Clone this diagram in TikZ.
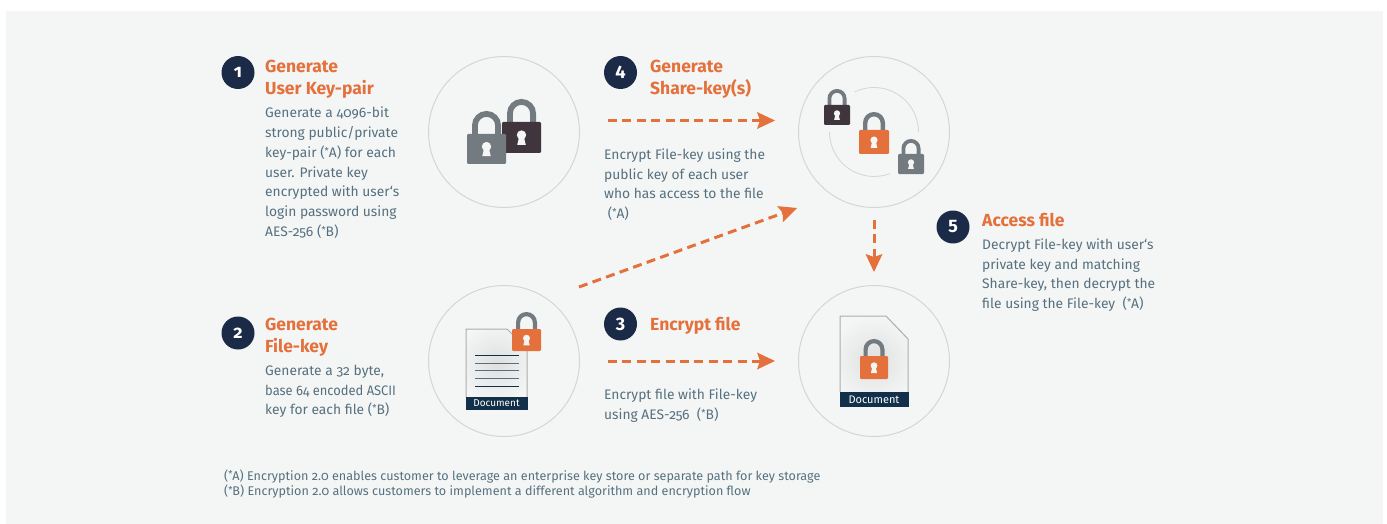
\documentclass[tikz,border=0pt]{standalone}
\usepackage{fontspec}
\setmainfont{Fira Sans}[Numbers=OldStyle]
\usetikzlibrary{arrows.meta,positioning}
\definecolor{panel}{HTML}{F4F6F6}
\definecolor{ringc}{HTML}{D3D6D5}
\definecolor{accent}{HTML}{E4703B}
\definecolor{navy}{HTML}{1B2A47}
\definecolor{bannerc}{HTML}{12304A}
\definecolor{bodytxt}{HTML}{56707F}
\definecolor{lockgray}{HTML}{737A80}
\definecolor{lockdark}{HTML}{41353D}
\newcommand{\st}{\raisebox{0.22em}{\fontsize{9.5}{9.5}\selectfont *}}
\tikzset{
  x=1pt,y=-1pt,
  ring/.style={circle,draw=ringc,line width=1pt,minimum size=151pt,inner sep=0pt,fill=none},
  badge/.style={circle,fill=navy,text=white,minimum size=33pt,inner sep=0pt,font=\fontsize{18}{18}\selectfont\bfseries},
  headline/.style={anchor=north west,inner sep=0pt,align=left,text=accent,font=\fontsize{17.5}{22}\selectfont\bfseries},
  bodytext/.style={anchor=north west,inner sep=0pt,align=left,text=bodytxt,font=\fontsize{13.8}{19.7}\selectfont},
  foot/.style={anchor=north west,inner sep=0pt,align=left,text=bodytxt,font=\fontsize{12.6}{15.6}\selectfont},
  flow/.style={draw=accent,line width=3pt,dash pattern=on 9pt off 5.4pt,
    -{Stealth[length=18pt,width=17pt,inset=3pt,fill=accent,color=accent,line width=0pt,sep=0pt]}},
  banner/.style={fill=bannerc,inner sep=0pt},
  doctag/.style={text=white,inner sep=0pt,font=\fontsize{10}{10}\selectfont},
  docsheet/.style={draw=gray!65,line width=1pt},
  pics/padlock/.style n args={5}{code={
    % #1 body width, #2 body height, #3 shackle outer width, #4 shackle rise, #5 colour
    \draw[lockgray,line width=0.2*#3 pt] (-0.4*#3,2) -- (-0.4*#3,{-#4+0.5*#3}) arc[start angle=180,end angle=360,x radius=0.4*#3,y radius=0.4*#3] -- (0.4*#3,2);
    \fill[#5,rounded corners=1.2pt] (-0.5*#1,0) rectangle (0.5*#1,#2);
    \fill[panel] (0,0.42*#2) circle[radius=0.12*#1];
    \fill[panel] (-0.05*#1,0.42*#2) -- (0.05*#1,0.42*#2) -- (0.11*#1,0.74*#2) -- (-0.11*#1,0.74*#2) -- cycle;
  }}
}
\begin{document}
\begin{tikzpicture}
\useasboundingbox (0,0) rectangle (1387,524);
\fill[panel] (6,11) rectangle (1383,524);

% rings
\node[ring] (ringA) at (504,132) {};
\node[ring] (ringB) at (874,132) {};
\node[ring] (ringC) at (504,361) {};
\node[ring] (ringD) at (874,361) {};

% badges
\node[badge] (b1) at (238,72.5) {1};
\node[badge] (b2) at (238,333) {2};
\node[badge] (b3) at (620.5,324) {3};
\node[badge] (b4) at (620.5,72.5) {4};
\node[badge] (b5) at (953,227) {5};

% headings
\node[headline] (h1) at (265,59.5) {Generate\\User Key-pair};
\node[headline] (h2) at (265,317.5) {Generate\\File-key};
\node[headline] (h3) at (650,317.5) {Encrypt file};
\node[headline] (h4) at (650,59.5) {Generate\\Share-key(s)};
\node[headline] (h5) at (982,213.5) {Access file};

% body text
\node[bodytext] (t1) at (265,107) {Generate a 4096-bit\\strong public/private\\key-pair (\st A) for each\\user. Private key\\encrypted with user‘s\\login password using\\AES-256 (\st B)};
\node[bodytext] (t2) at (265,365) {Generate a 32 byte,\\\scalebox{0.935}[1]{base 64 encoded ASCII}\\key for each file (\st B)};
\node[bodytext] (t3) at (604,388.5) {Encrypt file with File-key\\using AES-256 ~(\st B)};
\node[bodytext] (t4) at (604,148.5) {Encrypt File-key using the\\public key of each user\\who has access to the file\\~(\st A)};
\node[bodytext] (t5) at (982,238.5) {Decrypt File-key with user‘s\\private key and matching\\Share-key, then decrypt the\\file using the File-key ~(\st A)};

\node[foot] (fn) at (224,469.5) {(\st A) Encryption 2.0 enables customer to leverage an enterprise key store or separate path for key storage\\(\st B) Encryption 2.0 allows customers to implement a different algorithm and encryption flow};

% connectors
\coordinate (a1s) at (608,120.5); \coordinate (a1e) at (775,120.5);
\coordinate (a2s) at (608,361); \coordinate (a2e) at (775,361);
\coordinate (a3s) at (579,287); \coordinate (a3e) at (797,208);
\coordinate (a4s) at (874,220); \coordinate (a4e) at (874,272);
\draw[flow] (a1s) -- (a1e);
\draw[flow] (a2s) -- (a2e);
\draw[flow] (a3s) -- (a3e);
\draw[flow] (a4s) -- (a4e);

% ring A padlocks
\pic at (521.5,122) {padlock={39}{31}{29}{23}{lockdark}};
\pic at (486.5,134) {padlock={39}{30}{29}{23}{lockgray}};

% ring B inner arcs and padlocks
\coordinate (cB) at (874,132);
\draw[ringc,line width=0.8pt] ([shift={(-116:44.5)}]cB) arc[start angle=-116,end angle=0,radius=44.5];
\draw[ringc,line width=0.8pt] ([shift={(69:44.5)}]cB) arc[start angle=69,end angle=180,radius=44.5];
\pic at (837,105) {padlock={26}{20}{19}{16}{lockdark}};
\pic at (874,130) {padlock={30}{24}{22}{18}{accent}};
\pic at (911,154) {padlock={26}{20}{19}{15}{lockgray}};

% document in ring C
\begin{scope}
\clip (466,397) -- (466,329) -- (507,329) -- (527,349) -- (527,397) -- cycle;
\shade[inner color=gray!25,outer color=panel] (456,323) rectangle (537,403);
\end{scope}
\draw[docsheet] (466,397) -- (466,329) -- (507,329) -- (527,349) -- (527,397);
\foreach \yy/\cc in {355.3/bannerc,363/bodytxt,370.7/bodytxt,378.7/bodytxt,386.3/bannerc}
  \draw[\cc,line width=1pt] (475,\yy) -- (519,\yy);
\fill[banner] (465.5,397) rectangle (527.5,410);
\node[doctag] (dc) at (496.5,403.5) {Document};
\pic at (526.5,329) {padlock={29}{22}{21}{17}{accent}};

% document in ring D
\begin{scope}
\clip (840,392) -- (840,316) -- (886,316) -- (908,339) -- (908,392) -- cycle;
\shade[inner color=gray!25,outer color=panel] (830,316) rectangle (918,404);
\end{scope}
\draw[docsheet] (840,392) -- (840,316) -- (886,316) -- (908,339) -- (908,392);
\fill[banner] (839.5,392) rectangle (908.5,407);
\node[doctag,font=\fontsize{11}{11}\selectfont] (dd) at (874,399.5) {Document};
\pic at (874,356) {padlock={28}{23}{21}{17}{accent}};
\end{tikzpicture}
\end{document}
